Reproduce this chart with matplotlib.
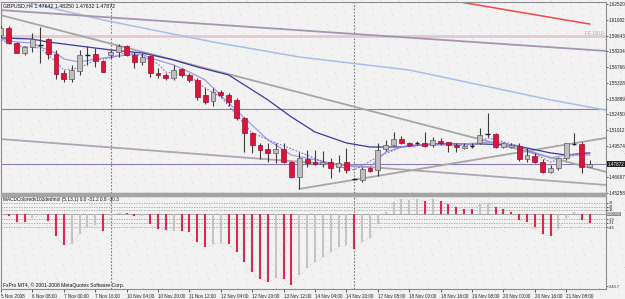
"""GBPUSD H4 chart with MACD colored histogram, redrawn from an MT4 screenshot"""
import matplotlib
import numpy as np

matplotlib.use("Agg")
import matplotlib.pyplot as plt  # noqa: E402
from matplotlib.patches import Rectangle  # noqa: E402

plt.rcParams["font.family"] = ["Liberation Sans", "DejaVu Sans"]

W, H = 625, 299
BG = "#F2F2F2"

TITLE = "GBPUSD,H4 1.47642 1.48250 1.47632 1.47872"
IND_TITLE = "MACDColoredv102dedmol (5,13,1) 0.0 -31.2 0.8 -30.3"
COPYRIGHT = "FxPro MT4, \u00a9 2001-2008 MetaQuotes Software Corp."

# H4 bars, 5 Nov 16:00 .. 21 Nov 08:00
OPEN = [1.5969, 1.6033, 1.5896, 1.5805, 1.5859, 1.5869, 1.5932, 1.5795, 1.5622, 1.5567,
        1.5640, 1.5786, 1.5795, 1.5732, 1.5786, 1.5814, 1.5869, 1.5786, 1.5722, 1.5777,
        1.5622, 1.5604, 1.5576, 1.5659, 1.5604, 1.5558, 1.5421, 1.5366, 1.5449, 1.5421,
        1.5376, 1.5211, 1.5074, 1.4965, 1.4928, 1.4892, 1.4928, 1.4809, 1.4672, 1.4837,
        1.4809, 1.4791, 1.4809, 1.4764, 1.4809, 1.4652, 1.4645, 1.4755, 1.4736, 1.4928,
        1.4965, 1.5020, 1.4983, 1.4982, 1.4983, 1.4965, 1.5001, 1.4992, 1.4965, 1.4937,
        1.4955, 1.4983, 1.5064, 1.5065, 1.4946, 1.4946, 1.4956, 1.4837, 1.4864, 1.4809,
        1.4718, 1.4755, 1.4846, 1.4973, 1.4974, 1.47642]
HIGH = [1.6051, 1.6051, 1.5905, 1.5864, 1.5987, 1.6042, 1.5942, 1.5832, 1.5649, 1.5695,
        1.5832, 1.5869, 1.5850, 1.5741, 1.5832, 1.5887, 1.5878, 1.5814, 1.5805, 1.5786,
        1.5668, 1.5622, 1.5695, 1.5668, 1.5622, 1.5576, 1.5485, 1.5485, 1.5467, 1.5439,
        1.5394, 1.5220, 1.5083, 1.4983, 1.4983, 1.4983, 1.4983, 1.4819, 1.4901, 1.4919,
        1.4919, 1.4910, 1.4846, 1.4873, 1.4937, 1.4663, 1.4764, 1.4764, 1.4983, 1.5010,
        1.5083, 1.5047, 1.4992, 1.5001, 1.5083, 1.5038, 1.5029, 1.4992, 1.4983, 1.4983,
        1.4983, 1.5120, 1.5257, 1.5074, 1.4992, 1.4983, 1.4983, 1.4937, 1.4892, 1.4837,
        1.4782, 1.4855, 1.4983, 1.5074, 1.4992, 1.48250]
LOW = [1.5951, 1.5887, 1.5800, 1.5786, 1.5814, 1.5713, 1.5750, 1.5567, 1.5540, 1.5540,
       1.5604, 1.5695, 1.5677, 1.5631, 1.5759, 1.5768, 1.5777, 1.5668, 1.5695, 1.5586,
       1.5576, 1.5558, 1.5558, 1.5586, 1.5540, 1.5376, 1.5339, 1.5321, 1.5403, 1.5321,
       1.5193, 1.4901, 1.4892, 1.4837, 1.4809, 1.4800, 1.4800, 1.4663, 1.4563, 1.4764,
       1.4782, 1.4764, 1.4663, 1.4718, 1.4709, 1.4645, 1.4627, 1.4718, 1.4682, 1.4910,
       1.4956, 1.4974, 1.4956, 1.4965, 1.4946, 1.4946, 1.4965, 1.4901, 1.4901, 1.4928,
       1.4937, 1.4974, 1.5038, 1.4937, 1.4937, 1.4937, 1.4819, 1.4809, 1.4800, 1.4709,
       1.4709, 1.4736, 1.4828, 1.4965, 1.4709, 1.47632]
CLOSE = [1.6033, 1.5896, 1.5805, 1.5859, 1.5932, 1.5878, 1.5795, 1.5613, 1.5567, 1.5649,
         1.5786, 1.5795, 1.5732, 1.5631, 1.5814, 1.5869, 1.5786, 1.5722, 1.5768, 1.5622,
         1.5604, 1.5576, 1.5649, 1.5604, 1.5558, 1.5403, 1.5357, 1.5449, 1.5421, 1.5357,
         1.5211, 1.5074, 1.4965, 1.4919, 1.4892, 1.4928, 1.4809, 1.4672, 1.4846, 1.4800,
         1.4791, 1.4809, 1.4755, 1.4800, 1.4736, 1.4656, 1.4746, 1.4727, 1.4919, 1.4965,
         1.5020, 1.4983, 1.4965, 1.4984, 1.4956, 1.5010, 1.4983, 1.4965, 1.4946, 1.4956,
         1.4957, 1.5056, 1.5066, 1.4946, 1.4983, 1.4965, 1.4837, 1.4873, 1.4809, 1.4718,
         1.4755, 1.4846, 1.4983, 1.4975, 1.4764, 1.47872]

# moving averages, sampled at bar index
MA_SLOW_BAR = [0, 4, 6, 14, 18, 22, 25, 29, 34, 37, 40, 44, 47, 51, 55, 61, 65, 67, 70, 72, 75]
MA_SLOW = [1.5942, 1.5932, 1.5905, 1.5832, 1.5805, 1.5741, 1.5677, 1.5604, 1.5376, 1.5220,
           1.5083, 1.4983, 1.4946, 1.4946, 1.4974, 1.4974, 1.4965, 1.4937, 1.4892, 1.4873, 1.4892]
MA_MID_BAR = [0, 2, 4, 5, 7, 8, 10, 12, 14, 16, 18, 19, 22, 24, 26, 29, 34, 37, 42, 45,
              47, 49, 52, 57, 63, 66, 70, 72, 75]
MA_MID = [1.5932, 1.5905, 1.5896, 1.5859, 1.5805, 1.5750, 1.5722, 1.5750, 1.5768, 1.5786,
          1.5795, 1.5759, 1.5695, 1.5631, 1.5558, 1.5348, 1.5010, 1.4873, 1.4800, 1.4764,
          1.4764, 1.4901, 1.4965, 1.4965, 1.4992, 1.4946, 1.4846, 1.4873, 1.4873]
MA_FAST_BAR = [0, 2, 5, 7, 8, 10, 12, 14, 16, 18, 20, 21, 24, 26, 28, 32, 35, 38, 42, 45,
               48, 51, 55, 60, 62, 66, 70, 72, 74, 75]
MA_FAST = [1.5923, 1.5869, 1.5850, 1.5722, 1.5649, 1.5668, 1.5741, 1.5759, 1.5814, 1.5777,
           1.5704, 1.5631, 1.5595, 1.5485, 1.5403, 1.5074, 1.4983, 1.4901, 1.4782, 1.4736,
           1.4855, 1.4946, 1.4974, 1.4956, 1.5029, 1.4956, 1.4809, 1.4846, 1.4892, 1.4892]
MA_LONG_BAR = [1, 13, 27, 38, 52, 61, 70, 77]
MA_LONG = [1.6307, 1.6106, 1.5905, 1.5768, 1.5649, 1.5513, 1.5376, 1.5284]

# trend lines (start bar, start price, end bar, end price)
TREND_X0 = [-0.13, -0.13, -0.13, 38.0]
TREND_P0 = [1.6197, 1.6152, 1.5019, 1.4563]
TREND_X1 = [77.1, 77.1, 77.1, 77.1]
TREND_P1 = [1.5823, 1.4718, 1.4599, 1.5029]
RED_X = [58.5, 75.0]
RED_P = [1.6270, 1.6069]
FE_LEVEL = 1.5960
HLINES = [1.5293, 1.47872]
BID = 1.47872
SEPARATORS = [14, 45]

PRICE_TICKS = [1.62520, 1.61082, 1.59643, 1.58204, 1.56766, 1.55328, 1.53889,
               1.52450, 1.51012, 1.49574, 1.46697, 1.45258]

# MACD colored histogram, r = falling, g = rising
MACD = [-2, -9, -29, -29, -16, -5, -26, -74, -104, -101,
        -68, -44, -39, -57, -8, 2, 1, -9, -7, -36,
        -52, -54, -57, -57, -62, -94, -111, -101, -98, -101,
        -128, -160, -193, -216, -226, -213, -216, -236, -203, -180,
        -160, -144, -128, -111, -104, -118, -95, -82, -36, 5,
        37, 47, 45, 47, 41, 47, 40, 30, 20, 14,
        14, 30, 36, 22, 16, 5, -21, -29, -46, -68,
        -74, -52, -16, 5, -21, -32]
MACD_STATE = ("grrrggrrrg" "gggrggrrgr" "rrgrrrrggr" "rrrrrgrrgg" "gggggrgggg"
              "ggggrgrrrr" "rggrrrrrrr" "rgggrr")
MACD_LEVELS = [36, 23, 12, -19, -31, -46]
MACD_TICK_LABELS = ["36", "23", "12", "-19", "-31", "-46", "-240.7"]
MACD_TICKS = [36, 23, 12, -19, -31, -46, -240.7]

TIME_TICKS = list(range(0, 76, 4))
TIME_LABELS = ["5 Nov 2008", "6 Nov 08:00", "7 Nov 00:00", "7 Nov 16:00", "10 Nov 04:00",
               "10 Nov 20:00", "11 Nov 12:00", "12 Nov 04:00", "12 Nov 20:00", "13 Nov 12:00",
               "14 Nov 04:00", "14 Nov 20:00", "17 Nov 08:00", "18 Nov 00:00", "18 Nov 16:00",
               "19 Nov 08:00", "20 Nov 00:00", "20 Nov 16:00", "21 Nov 08:00"]

FS = 3.3  # terminal label size


def frame(x0, y0, x1, y1):
    """pixel box -> figure fraction rect"""
    return [x0 / W, 1 - y1 / H, (x1 - x0) / W, (y1 - y0) / H]


def style_axes(ax):
    ax.set_facecolor("none")
    for s in ax.spines.values():
        s.set_color("#8C8C8C")
        s.set_linewidth(0.8)


fig = plt.figure(figsize=(W / 100, H / 100), dpi=100, facecolor=BG)

# faint pink dotted grid texture of the terminal
yy, xx = np.mgrid[0:H, 0:W]
mask = ((xx + 3 * yy) % 19 == 0) & (yy % 3 == 0)
tex = np.zeros((H, W, 4))
tex[mask] = [0.95, 0.74, 0.81, 0.75]
fig.figimage(tex, 0, 0, origin="upper", zorder=-1)

ax = fig.add_axes(frame(1, 2, 606, 193))
ax2 = fig.add_axes(frame(1, 196, 606, 289))
for a in (ax, ax2):
    style_axes(a)
    a.set_xlim(0, 77.07)
    for sx in SEPARATORS:
        a.axvline(sx, color="#7A7A7A", lw=0.8, ls=(0, (1.5, 1.5)), zorder=1)

fig.patches.append(Rectangle((1 / W, 1 - 196 / H), 605 / W, 3 / H,
                             transform=fig.transFigure, color="#A4A4A4", zorder=5))

# --- price panel
ax.set_ylim(1.45258, 1.62703)
ax.axhline(FE_LEVEL, color="#E2C9D2", lw=2.0, zorder=1)
ax.text(76.8, FE_LEVEL + 0.0004, "FE 100.0", ha="right", va="bottom", fontsize=FS,
        color="#A8A8A8")
for p in HLINES:
    ax.axhline(p, color="#8A7CB0", lw=0.8, zorder=1)
ax.plot(MA_LONG_BAR, MA_LONG, color="#A9BDEB", lw=1.1, zorder=2)
trend_cols = ["#A496AC", "#A6A6A6", "#AEA4B6", "#A6A6A6"]
for x0, p0, x1, p1, c in zip(TREND_X0, TREND_P0, TREND_X1, TREND_P1, trend_cols):
    ax.plot([x0, x1], [p0, p1], color=c, lw=1.3, zorder=2)
ax.plot(RED_X, RED_P, color="#F04848", lw=1.1, zorder=2)
ax.plot(MA_SLOW_BAR, MA_SLOW, color="#3B3BA0", lw=0.9, zorder=3)
ax.plot(MA_MID_BAR, MA_MID, color="#9C9CE4", lw=0.9, zorder=3)
ax.plot(MA_FAST_BAR, MA_FAST, color="#8A6CCB", lw=0.8, ls=(0, (1.5, 1.5)), zorder=3)

bw = 0.62
o, h, l, c = (np.array(v) for v in (OPEN, HIGH, LOW, CLOSE))
idx = np.arange(len(o))
ax.vlines(idx, l, h, color="#3C3C3C", lw=0.8, zorder=4)
doji = np.abs(c - o) < 0.0010
up = (c > o) & ~doji
dn = (c < o) & ~doji
ax.bar(idx[up], (c - o)[up], bw, o[up], color="#BEBEBE", edgecolor="#5E5E5E", lw=0.5,
       zorder=5)
ax.bar(idx[dn], (o - c)[dn], bw, c[dn], color="#DC143C", edgecolor="#9E1030", lw=0.5,
       zorder=5)
ax.hlines(((o + c) / 2)[doji], idx[doji] - bw / 2, idx[doji] + bw / 2, color="#202020",
          lw=1.0, zorder=5)

ax.yaxis.tick_right()
ax.set_yticks(PRICE_TICKS)
ax.set_yticklabels([f"{p:.5f}" for p in PRICE_TICKS])
ax.tick_params(axis="y", labelsize=FS, length=1.5, width=0.5, pad=0.5, colors="#202020")
ax.set_xticks([])
ax.text(1.002, BID, f"{BID:.5f}", transform=ax.get_yaxis_transform(), ha="left",
        va="center", fontsize=FS, color="white",
        bbox=dict(boxstyle="square,pad=0.1", fc="#202020", ec="none"))
fig.text(3 / W, 1 - 3 / H, TITLE, ha="left", va="top", fontsize=3.8, color="#101010")

# --- indicator panel
ax2.set_ylim(-249, 57.8)
ax2.axhline(0, color="#A8A8A8", lw=0.7, zorder=1)
for lv in MACD_LEVELS:
    ax2.axhline(lv, color="#A0A0A0", lw=0.6, ls=(0, (1.5, 1.5)), zorder=1)
ax2.plot(idx, MACD, color="#C8C8C8", lw=0.6, ls=(0, (1, 2)), zorder=2)
cols = ["#E0284F" if s == "r" else "#C4C4C4" for s in MACD_STATE]
ax2.vlines(idx, 0, MACD, colors=cols, lw=1.5, zorder=3)

ax2.yaxis.tick_right()
ax2.set_yticks(MACD_TICKS)
ax2.set_yticklabels(MACD_TICK_LABELS)
ax2.tick_params(axis="y", labelsize=2.8, length=1.5, width=0.5, pad=0.5, colors="#202020")
ax2.text(1.002, 0, "0.00000", transform=ax2.get_yaxis_transform(), ha="left", va="center",
         fontsize=2.8, color="white", zorder=6,
         bbox=dict(boxstyle="square,pad=0.0", fc="#8C8C8C", ec="none"))
ax2.set_xticks(TIME_TICKS)
ax2.set_xticklabels(TIME_LABELS)
ax2.tick_params(axis="x", labelsize=FS, length=2, width=0.5, pad=1.5, colors="#202020")
for lab in ax2.get_xticklabels():
    lab.set_ha("left")

fig.text(3 / W, 1 - 199 / H, IND_TITLE, ha="left", va="center", fontsize=3.4,
         color="#101010")
fig.text(3 / W, 1 - 285 / H, COPYRIGHT, ha="left", va="center", fontsize=3.6,
         color="#101010")

fig.savefig("out.png", dpi=100, facecolor=BG)
